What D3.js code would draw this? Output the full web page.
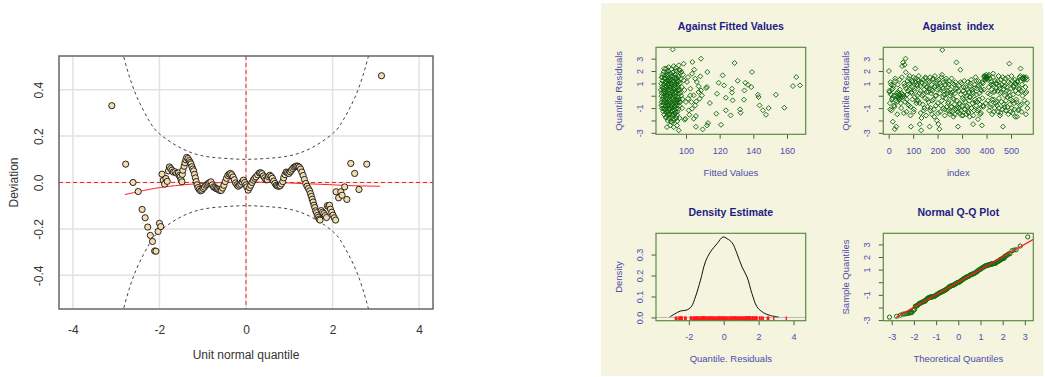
<!DOCTYPE html>
<html>
<head>
<meta charset="utf-8">
<script src="https://cdn.jsdelivr.net/npm/d3@7"></script>
<style>
body { margin: 0; background: #fff; }
svg text { font-family: "Liberation Sans", Arial, sans-serif; }
</style>
</head>
<body>
<svg id="chart" width="1045" height="377"></svg>
<script>
// WORM PLOT DATA: [unit normal quantile, deviation]
// ----------------------------------------
const wormPoints = [
  [-3.10, 0.331], [-2.78, 0.079], [-2.61, 0.000], [-2.49, -0.039], [-2.40, -0.116], [-2.33, -0.152],
  [-2.27, -0.192], [-2.21, -0.228], [-2.16, -0.254], [-2.11, -0.295], [-2.08, -0.296], [-2.03, -0.211],
  [-2.00, -0.176], [-1.97, -0.190], [-1.94, 0.036], [-1.91, 0.010], [-1.88, -0.007], [-1.85, 0.017],
  [-1.82, 0.005], [-1.79, 0.050], [-1.77, 0.067], [-1.74, 0.060], [-1.71, 0.053], [-1.68, 0.045],
  [-1.64, 0.046], [-1.60, 0.040], [-1.56, 0.041], [-1.54, 0.030], [-1.52, 0.024], [-1.50, 0.012],
  [-1.48, 0.003], [-1.47, 0.035], [-1.46, 0.053], [-1.43, 0.070], [-1.41, 0.085], [-1.39, 0.098],
  [-1.37, 0.108], [-1.34, 0.103], [-1.31, 0.094], [-1.29, 0.086], [-1.27, 0.080], [-1.25, 0.068],
  [-1.23, 0.058], [-1.21, 0.050], [-1.19, 0.035], [-1.17, 0.020], [-1.15, 0.004], [-1.13, -0.010],
  [-1.11, -0.022], [-1.08, -0.030], [-1.05, -0.036], [-1.02, -0.033], [-0.99, -0.026], [-0.96, -0.020],
  [-0.93, -0.012], [-0.90, -0.008], [-0.87, -0.004], [-0.84, 0.000], [-0.81, 0.003], [-0.78, -0.010],
  [-0.75, -0.019], [-0.72, -0.022], [-0.69, -0.026], [-0.66, -0.028], [-0.63, -0.031], [-0.60, -0.035],
  [-0.57, -0.034], [-0.54, -0.024], [-0.51, -0.012], [-0.48, 0.004], [-0.45, 0.018], [-0.42, 0.030],
  [-0.39, 0.036], [-0.36, 0.039], [-0.33, 0.034], [-0.30, 0.024], [-0.27, 0.012], [-0.24, -0.002],
  [-0.21, -0.010], [-0.18, -0.016], [-0.15, -0.012], [-0.12, -0.007], [-0.09, 0.002], [-0.06, 0.010],
  [-0.03, 0.000], [0.00, -0.010], [0.02, -0.019], [0.05, -0.033], [0.08, -0.022], [0.11, -0.012],
  [0.14, 0.000], [0.17, 0.010], [0.20, 0.018], [0.23, 0.024], [0.27, 0.033], [0.31, 0.041],
  [0.34, 0.042], [0.37, 0.038], [0.40, 0.028], [0.43, 0.020], [0.46, 0.012], [0.49, 0.012],
  [0.52, 0.025], [0.55, 0.031], [0.58, 0.026], [0.61, 0.018], [0.64, 0.006], [0.67, -0.004],
  [0.70, -0.012], [0.73, -0.015], [0.76, -0.016], [0.79, -0.014], [0.82, -0.006], [0.85, 0.004],
  [0.87, 0.020], [0.90, 0.034], [0.93, 0.045], [0.96, 0.042], [0.99, 0.039], [1.02, 0.046],
  [1.05, 0.053], [1.08, 0.060], [1.11, 0.066], [1.14, 0.069], [1.17, 0.071], [1.20, 0.070],
  [1.23, 0.066], [1.26, 0.058], [1.29, 0.045], [1.32, 0.030], [1.35, 0.013], [1.38, -0.004],
  [1.41, -0.016], [1.44, -0.026], [1.47, -0.036], [1.49, -0.048], [1.51, -0.060], [1.53, -0.072],
  [1.55, -0.084], [1.57, -0.098], [1.59, -0.108], [1.61, -0.122], [1.63, -0.130], [1.65, -0.142],
  [1.67, -0.150], [1.69, -0.158], [1.71, -0.162], [1.74, -0.121], [1.77, -0.128], [1.80, -0.134],
  [1.83, -0.143], [1.86, -0.151], [1.88, -0.100], [1.91, -0.104], [1.93, -0.098], [1.95, -0.115],
  [1.98, -0.128], [2.01, -0.141], [2.04, -0.152], [2.07, -0.162], [2.08, -0.040], [2.14, -0.066],
  [2.19, -0.040], [2.22, -0.055], [2.28, -0.019], [2.33, -0.073], [2.42, 0.082], [2.51, 0.039],
  [2.61, -0.030], [2.79, 0.079], [3.13, 0.460]
];

// fitted cubic through the worm
const wormFitX = [-2.8, -2.4, -2.0, -1.5, -1.0, -0.5, 0, 0.5, 1.0, 1.5, 2.0, 2.5, 3.1];
const wormFitY = [-0.052, -0.036, -0.022, -0.011, -0.004, 0.000, 0.002, 0.001, -0.002, -0.006, -0.010, -0.014, -0.016];

// 95% band half width at |z|
const bandZ = [0, 0.5, 1.0, 1.5, 2.0, 2.25, 2.5, 2.7, 2.85, 2.95];
const bandHalf = [0.100, 0.104, 0.115, 0.148, 0.210, 0.270, 0.360, 0.460, 0.560, 0.640];

const WORM_X_TICKS = [-4, -2, 0, 2, 4];
const WORM_Y_TICKS = [-0.4, -0.2, 0.0, 0.2, 0.4];

// RESIDUALS AGAINST FITTED VALUES: [fitted, residual]
// ----------------------------------------
const fittedBlob = [
  [88.4,2.21],[91.3,2.14],[93.9,2.27],[96.1,2.08],
  [86.8,1.93],[89.7,1.99],[92.2,1.88],[94.2,2.02],[97.3,1.91],
  [86.1,1.72],[88.2,1.64],[90.5,1.76],[91.8,1.61],[93.6,1.73],[95.1,1.66],[98.2,1.70],
  [85.6,1.47],[87.2,1.41],[89.1,1.52],[90.7,1.38],[92.7,1.49],[94.3,1.43],[95.6,1.51],[97.0,1.36],
  [86.0,1.21],[87.8,1.15],[88.8,1.27],[90.3,1.18],[91.4,1.24],[93.1,1.13],[94.5,1.22],[95.8,1.17],[98.7,1.25],
  [85.3,0.97],[86.9,0.91],[88.4,1.02],[89.5,0.93],[91.1,0.99],[92.3,0.88],[93.6,0.96],[95.2,0.90],[96.4,1.01],
  [85.8,0.72],[87.5,0.66],[88.6,0.75],[90.2,0.68],[91.2,0.77],[92.9,0.64],[94.1,0.73],[95.4,0.69],[97.5,0.71],
  [85.1,0.47],[86.6,0.42],[87.8,0.51],[89.4,0.44],[90.5,0.49],[92.1,0.40],[93.2,0.48],[94.8,0.43],[96.0,0.50],[99.1,0.46],
  [85.6,0.22],[87.1,0.17],[88.3,0.25],[89.9,0.19],[91.0,0.24],[92.6,0.15],[93.8,0.23],[95.4,0.18],[96.7,0.21],
  [85.4,-0.03],[86.8,-0.08],[88.0,0.01],[89.6,-0.06],[90.9,-0.02],[92.1,-0.09],[93.5,-0.04],[95.0,-0.07],[97.2,-0.01],
  [86.0,-0.28],[87.4,-0.33],[88.9,-0.26],[90.2,-0.31],[91.7,-0.27],[92.9,-0.35],[94.4,-0.29],[95.7,-0.32],[97.9,-0.27],
  [85.5,-0.53],[86.8,-0.58],[88.3,-0.51],[89.6,-0.57],[91.1,-0.52],[92.3,-0.60],[93.9,-0.54],[95.1,-0.56],[96.5,-0.50],
  [86.2,-0.78],[87.8,-0.83],[89.0,-0.76],[90.6,-0.82],[91.7,-0.77],[93.3,-0.84],[94.5,-0.79],[96.1,-0.81],
  [85.7,-1.03],[87.3,-1.08],[88.5,-1.01],[90.1,-1.07],[91.3,-1.02],[92.8,-1.09],[94.0,-1.04],[95.5,-1.06],[97.7,-1.01],
  [86.5,-1.28],[88.1,-1.33],[89.3,-1.27],[90.9,-1.32],[92.2,-1.26],[93.8,-1.34],[95.0,-1.29],
  [87.0,-1.53],[88.8,-1.58],[90.1,-1.52],[91.8,-1.57],[93.0,-1.51],[94.7,-1.56],
  [88.1,-1.78],[89.7,-1.83],[91.4,-1.77],[92.8,-1.84],[94.3,-1.79],[96.2,-1.81],
  [89.3,-2.03],[91.1,-2.08],[92.7,-2.02],[94.8,-2.06],
  [87.6,1.05],[89.0,0.60],[90.4,1.30],[91.7,0.35],[93.0,0.85],[88.3,-0.15],[89.8,-0.45],[91.2,-0.90],
  [92.5,-0.20],[93.9,-0.65],[88.0,-1.15],[90.0,-1.45],[91.9,-1.20],[93.4,-1.40],[89.2,1.75],[91.0,1.55],
  [92.8,1.95],[94.6,1.10],[87.1,0.30],[88.7,0.05],[90.8,0.10],[92.4,0.55],[94.0,0.30],[95.3,-0.15],
  [89.4,-0.80],[90.9,-0.60],[92.0,-1.60],[93.5,1.35],[87.9,1.45],[91.5,0.95],[90.0,0.80],[93.3,-0.90],
  [94.7,-0.40],[88.6,-0.60],[92.6,1.15],[89.1,1.20],[86.6,-0.45],[86.4,0.60],[95.9,0.40],[96.3,-0.55]
];
const fittedSparse = [
  [92.1,3.75],[108.9,3.00],[103.8,2.73],[98.6,2.59],[87.1,2.19],[128.9,2.65],[139.2,1.92],[121.8,1.65],
  [165.5,1.51],[112.7,1.92],[104.9,2.11],[108.5,1.57],[130.7,1.21],[119.4,1.05],[122.6,0.84],[127.3,0.57],
  [135.2,1.05],[136.8,0.89],[138.8,0.70],[134.7,0.43],[163.5,0.78],[167.7,0.84],[112.5,0.70],[111.9,0.62],
  [118.4,0.16],[127.3,0.25],[127.7,-0.37],[123.7,-0.16],[142.7,0.08],[143.1,-0.11],[134.4,-0.32],[153.4,0.08],
  [114.2,-0.59],[143.7,-0.78],[149.1,-1.00],[145.7,-1.18],[158.4,-0.97],[147.5,-1.54],[132.1,-1.10],[132.5,-1.38],
  [123.7,-1.18],[126.5,-1.59],[118.0,-1.45],[105.9,-1.64],[104.6,-1.86],[113.1,-2.21],[112.5,-2.40],[109.9,-2.72],
  [105.9,-2.51],[120.8,-2.35],[95.7,-2.80],[99.6,-1.86],[99.2,-1.94],[101.6,-1.18],[103.2,-0.51],[104.6,0.03],
  [106.1,-0.46],[107.5,0.30],[105.5,1.38],[106.5,1.11],[107.5,0.76],[108.9,0.43],[109.5,0.03],[108.1,-0.24],
  [105.5,-0.78],[103.6,-1.05],[102.0,-1.54],[102.6,0.57],[103.6,1.78],[101.2,1.51],[100.6,1.11],[100.0,-0.51],
  [101.2,-0.24],[102.6,0.03],[91.7,-2.13],[88.7,-2.54],[90.7,-2.40],[92.7,-2.54],[94.7,-2.40],[88.1,-1.73],
  [86.7,-1.05],[85.4,-0.78],[85.8,1.51],[89.7,2.32],[92.7,2.40],[95.7,2.46],[96.6,2.05],[88.7,1.92]
];

// RESIDUALS AGAINST INDEX
// ----------------------------------------
// residual at index 1, 3, 5, ... 567
const indexResidOdd = [
  2.0, 0.3, -0.6, 1.1, 0.1, -1.2, 0.5, -0.2, -2.1, 0.8, 0.0, -0.9, -2.7, 1.4, -0.4, -2.5, 0.2, -1.5, 0.9, -0.1,
  0.1, -0.3, 1.3, 0.0, -0.2, -1.0, 0.2, 2.4, -0.1, 2.7, 0.0, 1.0, 2.5, -0.5, 3.0, 0.6, -1.3, 0.1, 1.2, -0.7,
  1.4, -0.8, 0.5, 1.0, -1.6, -2.5, 0.3, 1.2, -0.3, 0.7, 1.5, -1.1, 0.4, -0.1, 2.2, 1.1, -0.6, 0.9, 0.0, 1.3,
  -0.4, 1.6, 0.2, -2.3, 0.8, -1.4, -2.8, 1.1, 0.0, -0.7, 1.3, -1.2, 0.5, 0.9, -0.2, 1.4, -1.6, 0.3, 0.7, -0.9,
  1.2, -0.5, 0.6, -2.5, 1.5, -1.0, 0.2, 0.9, -1.5, 0.4, 1.3, -0.3, -1.1, 0.7, 1.6, 0.0, -0.8, 1.0, -2.0, 0.5,
  -0.6, -2.3, 1.3, -2.7, 0.2, -1.3, 0.8, 1.5, -0.4, 3.7, 0.6, -1.0, 1.1, 0.1, -1.6, 0.9, -0.2, 1.4, -0.9, 0.4,
  -1.2, 0.7, -0.5, 1.2, -1.5, 0.0, 0.5, -0.9, 1.4, -1.3, 0.3, -0.2, -1.7, 0.9, -0.7, 0.2, 1.1, -1.1, 2.7, -0.4,
  0.6, -2.5, -1.0, 0.8, -0.6, -1.4, 2.1, 0.1, -1.2, 1.0, -0.8, -1.6, 0.4, -0.3, 1.2, -1.1, -0.5, 0.7, -1.5, 0.0,
  -0.9, 1.1, -1.3, 0.3, -0.4, -1.7, 0.8, -0.1, 1.3, -1.0, 0.5, -0.6, -2.3, 0.2, -1.2, 0.9, -0.3, 1.5, -0.8, 0.1,
  0.6, -0.5, -1.9, 1.2, -1.1, 0.2, -0.7, 0.9, -1.4, 0.4, -2.4, -0.2, 1.0, -0.9, 0.5, 1.5, 1.6, 1.4, -0.6, 1.7,
  1.5, 1.3, -0.4, 1.6, 0.7, -1.2, 1.4, 0.1, -0.7, 1.1, 0.5, -1.5, 0.9, 1.8, -0.3, 0.3, -1.0, 1.2, -0.6, 0.6,
  1.0, -0.8, 0.4, -1.3, 1.6, -0.2, 0.8, -1.6, 0.2, 1.3, -0.5, 0.9, -1.1, -2.5, 0.5, 1.1, -0.9, 0.0, 1.4, -0.4,
  -1.2, 0.7, -0.1, 1.5, -1.5, 0.3, 2.6, -0.7, 1.0, -0.3, 0.6, -1.0, 1.2, -1.4, 0.1, 0.8, -0.6, 1.3, -1.7, 0.4,
  0.9, -0.5, -1.7, 1.1, 0.2, -1.1, 0.6, 1.5, -0.8, 2.2, 0.4, -1.3, 0.9, 0.0, 1.4, 1.3, 1.5, -0.4, 1.4, 0.7,
  -1.5, 0.3, 1.3, -1.0
];
// residual at index 2, 6, 10, ... 566
const indexResidQuarter = [
  0.4, -1.1, 0.9, -0.3, 0.6, -0.8, 1.2, 0.0, -0.5, 0.3,
  -0.2, 0.5, -0.6, 1.5, 0.1, -1.4, 0.8, 1.9, -0.3, 0.4,
  0.9, 1.6, -0.9, 0.2, 1.1, -1.3, 0.6, 1.4, -0.4, 0.8,
  1.2, -0.6, 0.4, -1.8, 1.0, 0.1, -1.0, 1.5, 0.7, -0.3,
  0.3, 1.1, -1.2, 0.5, -0.4, 1.4, -1.7, 0.8, 0.0, 1.2,
  -1.4, 0.6, 1.0, -0.8, 1.7, -0.1, 0.4, -1.1, 1.2, 0.2,
  -0.6, 0.9, -1.3, 0.2, -0.9, 1.0, -0.3, -1.5, 0.6, -1.0,
  -1.3, 0.4, -0.7, 1.1, -1.6, -0.2, 0.7, -1.1, 0.2, -0.8,
  0.5, -1.4, -0.1, 1.0, -1.0, 0.3, -1.6, 0.6, -0.5, 1.2,
  -1.2, 0.8, -0.3, -1.5, 0.5, 1.1, -0.8, 1.6, 1.3, 1.5,
  1.4, 0.2, 1.7, -0.9, 0.9, -0.3, 1.5, -1.3, 0.4, 1.0,
  -0.5, 1.2, -1.0, 0.6, -1.4, 0.3, 1.5, -0.7, 0.8, -1.2,
  0.4, -0.9, 1.1, 0.0, -1.3, 1.6, -0.4, 0.7, -1.1, 1.0,
  -0.3, 1.2, -1.2, 0.5, 1.6, -0.7, 1.4, 1.5, 1.3, 0.2,
  1.5, -0.6
];

// DENSITY ESTIMATE: [quantile residual, density]
// ----------------------------------------
const densityCurve = [
  [-3.09, 0.003], [-2.82, 0.016], [-2.47, 0.031], [-2.13, 0.035], [-1.86, 0.051], [-1.62, 0.098],
  [-1.33, 0.178], [-1.05, 0.265], [-0.76, 0.313], [-0.38, 0.352], [-0.04, 0.384], [0.19, 0.376],
  [0.48, 0.357], [0.76, 0.305], [1.05, 0.241], [1.34, 0.193], [1.62, 0.114], [1.91, 0.051],
  [2.29, 0.022], [2.67, 0.0095], [3.14, 0.002]
];

// QQ line: intercept and slope
const QQ_INTERCEPT = 0.01;
const QQ_SLOPE = 1.0;
const QQ_LINE_FROM = -2.8;
const QQ_LINE_TO = 3.5;

// COLOURS
// ----------------------------------------
const PANEL_BG = "#f5f4de";
const BOX_GREEN = "#5a8c42";
const TITLE_BLUE = "#1c1c84";
const LABEL_BLUE = "#4c4cae";
const POINT_GREEN = "#0a640a";

const svg = d3.select("#chart");

// LEFT: WORM PLOT
// ----------------------------------------
const wp = { l: 59, r: 433, t: 56, b: 309 };
const wx = d3.scaleLinear().domain([-4.32, 4.32]).range([wp.l, wp.r]);
const wy = d3.scaleLinear().domain([-0.545, 0.545]).range([wp.b, wp.t]);

svg.append("clipPath").attr("id", "wclip")
  .append("rect").attr("x", wp.l).attr("y", wp.t).attr("width", wp.r - wp.l).attr("height", wp.b - wp.t);

const worm = svg.append("g");
const wormIn = worm.append("g").attr("clip-path", "url(#wclip)");

// grid
wormIn.selectAll(".gx").data(WORM_X_TICKS).join("line")
  .attr("x1", d => wx(d)).attr("x2", d => wx(d)).attr("y1", wp.t).attr("y2", wp.b)
  .attr("stroke", "#e2e2e2").attr("stroke-width", 1.5);
wormIn.selectAll(".gy").data(WORM_Y_TICKS).join("line")
  .attr("x1", wp.l).attr("x2", wp.r).attr("y1", d => wy(d)).attr("y2", d => wy(d))
  .attr("stroke", "#e2e2e2").attr("stroke-width", 1.5);

// red dashed reference lines
wormIn.append("line").attr("x1", wp.l).attr("x2", wp.r).attr("y1", wy(0)).attr("y2", wy(0))
  .attr("stroke", "#ff2020").attr("stroke-dasharray", "4,3");
wormIn.append("line").attr("x1", wx(0)).attr("x2", wx(0)).attr("y1", wp.t).attr("y2", wp.b)
  .attr("stroke", "#ff2020").attr("stroke-dasharray", "4,3");

// confidence band
const bandFull = bandZ.slice(1).reverse().map((z, i) => [-z, bandHalf[bandZ.length - 1 - i]])
  .concat(bandZ.map((z, i) => [z, bandHalf[i]]));
const bandLine = d3.line().x(d => wx(d[0])).y(d => wy(d[1])).curve(d3.curveNatural);
[1, -1].forEach(sign => {
  wormIn.append("path")
    .attr("d", bandLine(bandFull.map(d => [d[0], sign * d[1]])))
    .attr("fill", "none").attr("stroke", "#444").attr("stroke-width", 1).attr("stroke-dasharray", "3,3");
});

// fitted curve
wormIn.append("path")
  .attr("d", d3.line().x(d => wx(d)).y((d, i) => wy(wormFitY[i])).curve(d3.curveNatural)(wormFitX))
  .attr("fill", "none").attr("stroke", "#ff2020").attr("stroke-width", 1);

// points
wormIn.selectAll(".wpt").data(wormPoints).join("circle")
  .attr("cx", d => wx(d[0])).attr("cy", d => wy(d[1])).attr("r", 3.1)
  .attr("fill", "#f3dcae").attr("stroke", "#111").attr("stroke-width", 0.9);

// box
worm.append("rect").attr("x", wp.l).attr("y", wp.t).attr("width", wp.r - wp.l).attr("height", wp.b - wp.t)
  .attr("fill", "none").attr("stroke", "#666").attr("stroke-width", 1.5);

// axes
worm.append("g").attr("transform", `translate(0,${wp.b})`)
  .call(d3.axisBottom(wx).tickValues(WORM_X_TICKS).tickSize(0).tickPadding(16.5).tickFormat(d => String(d)))
  .call(g => g.select(".domain").remove())
  .attr("font-size", 12).attr("font-family", null).attr("color", "#333");
worm.append("g").attr("transform", `translate(${wp.l},0)`)
  .call(d3.axisLeft(wy).tickValues(WORM_Y_TICKS).tickSize(0).tickFormat(d => d.toFixed(1)))
  .call(g => g.select(".domain").remove())
  .attr("font-size", 12).attr("font-family", null).attr("color", "#333")
  .call(g => g.selectAll("text").attr("x", 0).attr("dy", 0).attr("text-anchor", "middle")
    .attr("transform", "translate(-15.7,0) rotate(-90)"));

worm.append("text").attr("x", (wp.l + wp.r) / 2).attr("y", 359).attr("text-anchor", "middle")
  .attr("font-size", 12).attr("fill", "#333").text("Unit normal quantile");
worm.append("text").attr("transform", `translate(18.3,${(wp.t + wp.b) / 2}) rotate(-90)`)
  .attr("text-anchor", "middle").attr("font-size", 12).attr("fill", "#333").text("Deviation");

// RIGHT: RESIDUAL PANELS
// ----------------------------------------
svg.append("rect").attr("x", 601).attr("y", 3).attr("width", 442).attr("height", 373).attr("fill", PANEL_BG);

let clipCount = 0;
function drawPanel(cfg) {
  const b = cfg.box;
  const x = d3.scaleLinear().domain(cfg.xDomain).range([b.l, b.r]);
  const y = d3.scaleLinear().domain(cfg.yDomain).range([b.b, b.t]);
  const id = "pclip" + (clipCount++);
  svg.append("clipPath").attr("id", id)
    .append("rect").attr("x", b.l).attr("y", b.t).attr("width", b.r - b.l).attr("height", b.b - b.t);
  const g = svg.append("g");

  g.append("g").attr("transform", `translate(0,${b.b})`)
    .call(d3.axisBottom(x).tickValues(cfg.xTicks).tickSize(4.5).tickSizeOuter(0).tickPadding(8.6)
      .tickFormat(d => String(d)))
    .call(s => s.select(".domain").remove())
    .call(s => s.selectAll("line").attr("stroke", "#555"))
    .attr("font-size", 9).attr("font-family", null).attr("color", LABEL_BLUE);

  g.append("g").attr("transform", `translate(${b.l},0)`)
    .call(d3.axisLeft(y).tickValues(cfg.yTicks).tickSize(4.5).tickSizeOuter(0).tickFormat(cfg.yFormat))
    .call(s => s.select(".domain").remove())
    .call(s => s.selectAll("line").attr("stroke", "#555"))
    .attr("font-size", 9).attr("font-family", null).attr("color", LABEL_BLUE)
    .call(s => s.selectAll("text").attr("x", 0).attr("dy", 0).attr("text-anchor", "middle")
      .attr("transform", "translate(-13.3,0) rotate(-90)"));

  g.append("text").attr("x", (b.l + b.r) / 2).attr("y", b.t - 17.6).attr("text-anchor", "middle")
    .attr("font-size", 10.5).attr("font-weight", "bold").attr("fill", TITLE_BLUE)
    .style("white-space", "pre").text(cfg.title);
  g.append("text").attr("x", (b.l + b.r) / 2).attr("y", b.b + 41.5).attr("text-anchor", "middle")
    .attr("font-size", 9.5).attr("fill", LABEL_BLUE).text(cfg.xLabel);
  g.append("text").attr("transform", `translate(${b.l - 34},${(b.t + b.b) / 2}) rotate(-90)`)
    .attr("text-anchor", "middle").attr("font-size", 9.5).attr("fill", LABEL_BLUE).text(cfg.yLabel);

  const inner = g.append("g").attr("clip-path", `url(#${id})`);
  g.append("rect").attr("class", "box").attr("x", b.l).attr("y", b.t)
    .attr("width", b.r - b.l).attr("height", b.b - b.t)
    .attr("fill", "none").attr("stroke", BOX_GREEN).attr("stroke-width", 1.2);
  return { x, y, inner };
}

const residTicks = [-3, -2, -1, 0, 1, 2, 3];
const residFormat = d => ([3, 2, 1, -1, -3].includes(d) ? String(d) : "");
const diamond = "M0,-2.5L2.5,0L0,2.5L-2.5,0Z";

// Against Fitted Values
const p1 = drawPanel({
  box: { l: 656, r: 805.7, t: 47.3, b: 134.3 },
  xDomain: [82.2, 171.1], yDomain: [-3.12, 3.92],
  xTicks: [100, 120, 140, 160], yTicks: residTicks, yFormat: residFormat,
  title: "Against Fitted Values", xLabel: "Fitted Values", yLabel: "Quantile Residuals"
});
p1.inner.selectAll("path.pt").data(fittedBlob.concat(fittedSparse)).join("path")
  .attr("d", diamond).attr("transform", d => `translate(${p1.x(d[0])},${p1.y(d[1])})`)
  .attr("fill", "none").attr("stroke", POINT_GREEN).attr("stroke-width", 0.9);

// Against index
const indexPoints = indexResidOdd.map((r, i) => [1 + 2 * i, r])
  .concat(indexResidQuarter.map((r, i) => [2 + 4 * i, r]));
const p2 = drawPanel({
  box: { l: 883.3, r: 1033.3, t: 47.3, b: 134.3 },
  xDomain: [-22, 591], yDomain: [-3.12, 3.92],
  xTicks: [0, 100, 200, 300, 400, 500], yTicks: residTicks, yFormat: residFormat,
  title: "Against  index", xLabel: "index", yLabel: "Quantile Residuals"
});
p2.inner.selectAll("path.pt").data(indexPoints).join("path")
  .attr("d", diamond).attr("transform", d => `translate(${p2.x(d[0])},${p2.y(d[1])})`)
  .attr("fill", "none").attr("stroke", POINT_GREEN).attr("stroke-width", 0.9);

// Density Estimate
const p3 = drawPanel({
  box: { l: 656, r: 805.7, t: 233.3, b: 320.7 },
  xDomain: [-3.88, 4.7], yDomain: [-0.0155, 0.4015],
  xTicks: [-2, 0, 2, 4], yTicks: [0, 0.1, 0.2, 0.3], yFormat: d => d.toFixed(1),
  title: "Density Estimate", xLabel: "Quantile. Residuals", yLabel: "Density"
});
p3.inner.append("line").attr("x1", 656).attr("x2", 805.7).attr("y1", p3.y(0)).attr("y2", p3.y(0))
  .attr("stroke", "#b8b8b8").attr("stroke-width", 1);
p3.inner.append("path")
  .attr("d", d3.line().x(d => p3.x(d[0])).y(d => p3.y(d[1])).curve(d3.curveCatmullRom)(densityCurve))
  .attr("fill", "none").attr("stroke", "#111").attr("stroke-width", 1);
const residuals = wormPoints.map(d => d[0] + d[1]);
p3.inner.selectAll("line.rug").data(residuals).join("line")
  .attr("x1", d => p3.x(d)).attr("x2", d => p3.x(d))
  .attr("y1", 320.7).attr("y2", 316.6)
  .attr("stroke", "#ff1a1a").attr("stroke-width", 1.4);

// Normal Q-Q Plot
const p4 = drawPanel({
  box: { l: 883.3, r: 1033.3, t: 233.3, b: 320.7 },
  xDomain: [-3.38, 3.38], yDomain: [-3.05, 3.88],
  xTicks: [-3, -2, -1, 0, 1, 2, 3], yTicks: residTicks, yFormat: residFormat,
  title: "Normal Q-Q Plot", xLabel: "Theoretical Quantiles", yLabel: "Sample Quantiles"
});
p4.inner.selectAll("circle.pt").data(wormPoints).join("circle")
  .attr("cx", d => p4.x(d[0])).attr("cy", d => p4.y(d[0] + d[1])).attr("r", 2.1)
  .attr("fill", "none").attr("stroke", "#137013").attr("stroke-width", 1);
p4.inner.append("path")
  .attr("d", d3.line().x(d => p4.x(d)).y(d => p4.y(QQ_INTERCEPT + QQ_SLOPE * d))([QQ_LINE_FROM, QQ_LINE_TO]))
  .attr("stroke", "#ff1a1a").attr("stroke-width", 1.3);
</script>
</body>
</html>
